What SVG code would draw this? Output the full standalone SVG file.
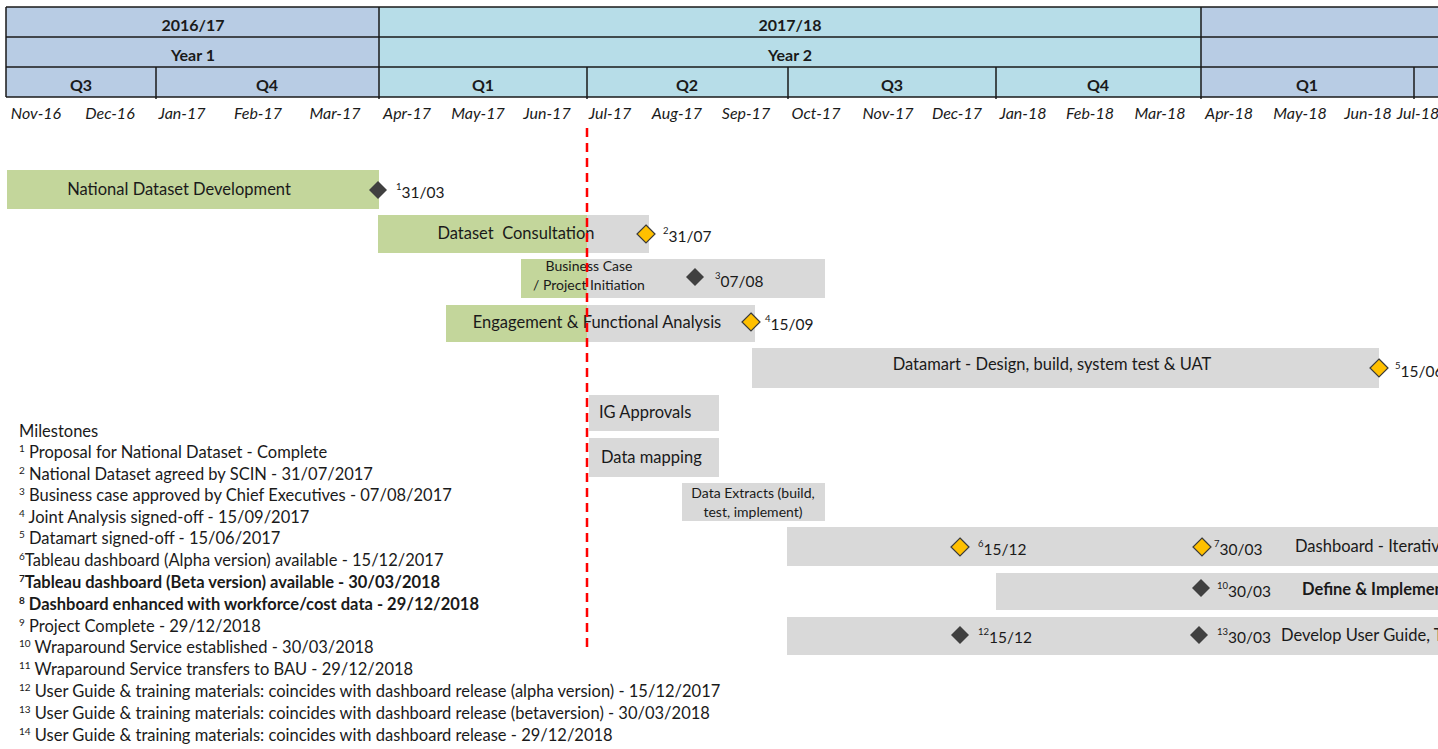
<svg xmlns="http://www.w3.org/2000/svg" width="1438" height="749" viewBox="0 0 1438 749">
<style>
text{font-family:Lato,"Open Sans","Liberation Sans",sans-serif;fill:#1a1a1a}
.hd{font-size:16px;font-weight:700;text-anchor:middle}
.mo{font-size:16px;font-style:italic;text-anchor:middle}
.ln{stroke:#1a1a1a;stroke-width:1.5;fill:none}
.g{fill:#c3d69b}
.r{fill:#d9d9d9}
.bt{font-size:16.5px}
.sm{font-size:14px;text-anchor:middle}
.dl{font-size:15.5px}
.ms{font-size:16.5px}
.b{font-weight:700}
.gold{fill:#ffc000;stroke:#3a3a3a;stroke-width:1.2}
.dark{fill:#404040}
</style>
<defs>
<path id="dia" d="M0,-9 L9,0 L0,9 L-9,0 Z"/>
</defs>
<rect width="1438" height="749" fill="#ffffff"/>
<g id="timeline-header">
<rect x="6" y="7" width="373" height="90" fill="#b8cce4"/>
<rect x="379" y="7" width="822" height="90" fill="#b7dde8"/>
<rect x="1201" y="7" width="240" height="90" fill="#b8cce4"/>
<path class="ln" d="M6,7H1440M6,37H1440M6,67H1440M6,97H1440M6,7V97M379,7V99M1201,7V99M156,67V99M587,67V99M788,67V99M996,67V99M1414,67V99"/>
<text class="hd" x="193" y="31">2016/17</text>
<text class="hd" x="790" y="31">2017/18</text>
<text class="hd" x="193" y="61">Year 1</text>
<text class="hd" x="790" y="61">Year 2</text>
<text class="hd" x="81" y="91">Q3</text>
<text class="hd" x="267" y="91">Q4</text>
<text class="hd" x="483" y="91">Q1</text>
<text class="hd" x="687" y="91">Q2</text>
<text class="hd" x="892" y="91">Q3</text>
<text class="hd" x="1098" y="91">Q4</text>
<text class="hd" x="1307" y="91">Q1</text>
<text class="mo" x="36" y="119">Nov-16</text>
<text class="mo" x="110" y="119">Dec-16</text>
<text class="mo" x="182" y="119">Jan-17</text>
<text class="mo" x="258" y="119">Feb-17</text>
<text class="mo" x="335" y="119">Mar-17</text>
<text class="mo" x="407" y="119">Apr-17</text>
<text class="mo" x="478" y="119">May-17</text>
<text class="mo" x="547" y="119">Jun-17</text>
<text class="mo" x="610" y="119">Jul-17</text>
<text class="mo" x="677" y="119">Aug-17</text>
<text class="mo" x="746" y="119">Sep-17</text>
<text class="mo" x="816" y="119">Oct-17</text>
<text class="mo" x="888" y="119">Nov-17</text>
<text class="mo" x="957" y="119">Dec-17</text>
<text class="mo" x="1023" y="119">Jan-18</text>
<text class="mo" x="1090" y="119">Feb-18</text>
<text class="mo" x="1160" y="119">Mar-18</text>
<text class="mo" x="1229" y="119">Apr-18</text>
<text class="mo" x="1300" y="119">May-18</text>
<text class="mo" x="1368" y="119">Jun-18</text>
<text class="mo" x="1418" y="119" text-anchor="start">Jul-18</text>
</g>
<g id="task-national-dataset">
<rect class="g" x="7" y="170" width="372" height="39"/>
<text class="bt" x="179" y="195" text-anchor="middle">National Dataset Development</text>
<use href="#dia" class="dark" x="378" y="190"/>
<text class="dl" x="396" y="198"><tspan font-size="9.5" dy="-8">1</tspan><tspan dy="8">31/03</tspan></text>
</g>
<g id="task-consultation">
<rect class="g" x="378" y="215" width="209" height="38"/>
<rect class="r" x="587" y="215" width="62" height="38"/>
<text class="bt" x="516" y="239" text-anchor="middle" style="white-space:pre">Dataset  Consultation</text>
<use href="#dia" class="gold" x="646" y="234"/>
<text class="dl" x="663" y="242"><tspan font-size="9.5" dy="-8">2</tspan><tspan dy="8">31/07</tspan></text>
</g>
<g id="task-business-case">
<rect class="g" x="521" y="259" width="66" height="39"/>
<rect class="r" x="587" y="259" width="238" height="39"/>
<text class="sm" x="589" y="271">Business Case</text>
<text class="sm" x="589" y="290">/ Project Initiation</text>
<use href="#dia" class="dark" x="695" y="277"/>
<text class="dl" x="715" y="287"><tspan font-size="9.5" dy="-8">3</tspan><tspan dy="8">07/08</tspan></text>
</g>
<g id="task-engagement">
<rect class="g" x="446" y="305" width="141" height="37"/>
<rect class="r" x="587" y="305" width="168" height="37"/>
<text class="bt" x="597" y="328" text-anchor="middle">Engagement &amp; Functional Analysis</text>
<use href="#dia" class="gold" x="751" y="322"/>
<text class="dl" x="765" y="330"><tspan font-size="9.5" dy="-8">4</tspan><tspan dy="8">15/09</tspan></text>
</g>
<g id="task-datamart">
<rect class="r" x="752" y="348" width="627" height="40"/>
<text class="bt" x="1052" y="370" text-anchor="middle">Datamart - Design, build, system test &amp; UAT</text>
<use href="#dia" class="gold" x="1379" y="368"/>
<text class="dl" x="1395" y="377"><tspan font-size="9.5" dy="-8">5</tspan><tspan dy="8">15/06</tspan></text>
</g>
<g id="task-ig-approvals">
<rect class="r" x="589" y="395" width="130" height="36"/>
<text class="bt" x="599" y="418">IG Approvals</text>
</g>
<g id="task-data-mapping">
<rect class="r" x="589" y="438" width="130" height="39"/>
<text class="bt" x="601" y="463">Data mapping</text>
</g>
<g id="task-data-extracts">
<rect class="r" x="682" y="483" width="143" height="38"/>
<text class="sm" x="753" y="498">Data Extracts (build,</text>
<text class="sm" x="753" y="517">test, implement)</text>
</g>
<g id="task-dashboard">
<rect class="r" x="787" y="527" width="660" height="39"/>
<use href="#dia" class="gold" x="960" y="547"/>
<text class="dl" x="978" y="555"><tspan font-size="9.5" dy="-8">6</tspan><tspan dy="8">15/12</tspan></text>
<use href="#dia" class="gold" x="1202" y="547"/>
<text class="dl" x="1214" y="555"><tspan font-size="9.5" dy="-8">7</tspan><tspan dy="8">30/03</tspan></text>
<text class="bt" x="1295" y="552">Dashboard - Iterativ</text>
</g>
<g id="task-define-implement">
<rect class="r" x="996" y="573" width="450" height="37"/>
<use href="#dia" class="dark" x="1201" y="588"/>
<text class="dl" x="1217" y="597"><tspan font-size="9.5" dy="-8">10</tspan><tspan dy="8">30/03</tspan></text>
<text class="bt b" x="1302" y="595">Define &amp; Implemen</text>
</g>
<g id="task-user-guide">
<rect class="r" x="787" y="617" width="660" height="38"/>
<use href="#dia" class="dark" x="960" y="635"/>
<text class="dl" x="978" y="643"><tspan font-size="9.5" dy="-8">12</tspan><tspan dy="8">15/12</tspan></text>
<use href="#dia" class="dark" x="1199" y="635"/>
<text class="dl" x="1217" y="643"><tspan font-size="9.5" dy="-8">13</tspan><tspan dy="8">30/03</tspan></text>
<text class="bt" x="1281" y="641">Develop User Guide, T</text>
</g>
<g id="today-line">
<line x1="587" y1="128" x2="587" y2="650" stroke="#ff0000" stroke-width="2.5" stroke-dasharray="9,6"/>
</g>
<g id="milestones-legend">
<text class="ms" x="19" y="437">Milestones</text>
<text class="ms" x="19" y="458"><tspan font-size="10" dy="-6">1</tspan><tspan dy="6"> Proposal for National Dataset - Complete</tspan></text>
<text class="ms" x="19" y="479.5"><tspan font-size="10" dy="-6">2</tspan><tspan dy="6"> National Dataset agreed by SCIN - 31/07/2017</tspan></text>
<text class="ms" x="19" y="501"><tspan font-size="10" dy="-6">3</tspan><tspan dy="6"> Business case approved by Chief Executives - 07/08/2017</tspan></text>
<text class="ms" x="19" y="522.5"><tspan font-size="10" dy="-6">4</tspan><tspan dy="6"> Joint Analysis signed-off - 15/09/2017</tspan></text>
<text class="ms" x="19" y="544"><tspan font-size="10" dy="-6">5</tspan><tspan dy="6"> Datamart signed-off - 15/06/2017</tspan></text>
<text class="ms" x="19" y="566"><tspan font-size="10" dy="-6">6</tspan><tspan dy="6">Tableau dashboard (Alpha version) available - 15/12/2017</tspan></text>
<text class="ms b" x="19" y="588" font-size="15.3"><tspan font-size="10" dy="-6">7</tspan><tspan dy="6">Tableau dashboard (Beta version) available - 30/03/2018</tspan></text>
<text class="ms b" x="19" y="610" font-size="15.3"><tspan font-size="10" dy="-6">8</tspan><tspan dy="6"> Dashboard enhanced with workforce/cost data - 29/12/2018</tspan></text>
<text class="ms" x="19" y="632"><tspan font-size="10" dy="-6">9</tspan><tspan dy="6"> Project Complete - 29/12/2018</tspan></text>
<text class="ms" x="19" y="653"><tspan font-size="10" dy="-6">10</tspan><tspan dy="6"> Wraparound Service established - 30/03/2018</tspan></text>
<text class="ms" x="19" y="675"><tspan font-size="10" dy="-6">11</tspan><tspan dy="6"> Wraparound Service transfers to BAU - 29/12/2018</tspan></text>
<text class="ms" x="19" y="697"><tspan font-size="10" dy="-6">12</tspan><tspan dy="6"> User Guide &amp; training materials: coincides with dashboard release (alpha version) - 15/12/2017</tspan></text>
<text class="ms" x="19" y="719"><tspan font-size="10" dy="-6">13</tspan><tspan dy="6"> User Guide &amp; training materials: coincides with dashboard release (betaversion) - 30/03/2018</tspan></text>
<text class="ms" x="19" y="741"><tspan font-size="10" dy="-6">14</tspan><tspan dy="6"> User Guide &amp; training materials: coincides with dashboard release - 29/12/2018</tspan></text>
</g>
</svg>
